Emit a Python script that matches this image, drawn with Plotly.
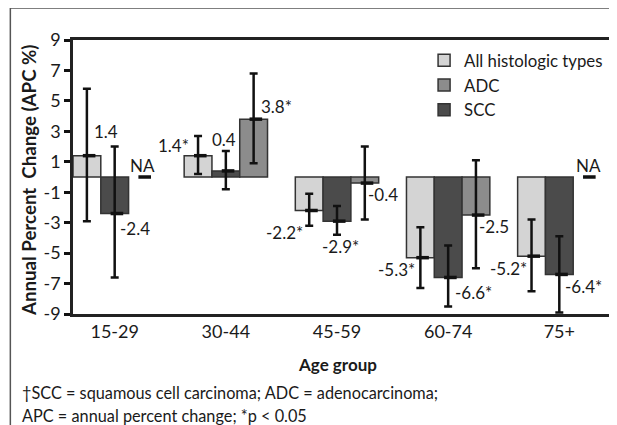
import plotly.graph_objects as go

# ---- data ----
categories = ["15-29", "30-44", "45-59", "60-74", "75+"]

all_apc = [1.4, 1.4, -2.2, -5.3, -5.2]
all_lo = [-2.9, 0.2, -3.2, -7.3, -7.5]
all_hi = [5.8, 2.7, -1.1, -3.3, -2.8]
all_labels = ["1.4", "1.4*", "-2.2*", "-5.3*", "-5.2*"]

scc_apc = [-2.4, 0.4, -2.9, -6.6, -6.4]
scc_lo = [-6.6, -0.8, -3.8, -8.5, -8.9]
scc_hi = [2.0, 1.7, -1.9, -4.5, -3.9]
scc_labels = ["-2.4", "0.4", "-2.9*", "-6.6*", "-6.4*"]

adc_apc = [None, 3.8, -0.4, -2.5, None]
adc_lo = [None, 0.9, -2.8, -6.0, None]
adc_hi = [None, 6.8, 2.0, 1.1, None]
adc_labels = ["NA", "3.8*", "-0.4", "-2.5", "NA"]

y_ticks = [9, 7, 5, 3, 1, -1, -3, -5, -7, -9]

# ---- style ----
FONT = "Lato"
TXT = "#1a1a1a"
BAR_W = 0.25
series = [
    # name, values, lo, hi, labels, color, offset, legendrank, label shifts (x, y)
    ("All histologic types", all_apc, all_lo, all_hi, all_labels, "#d4d4d4", -BAR_W, 1,
     [(19, 24), (-25, 10), (-25, -22), (-24, -12), (-23, -12)]),
    ("SCC", scc_apc, scc_lo, scc_hi, scc_labels, "#4b4b4b", 0.0, 3,
     [(20, -15), (-2, 31), (3, -25), (25, -15), (24, -12)]),
    ("ADC", adc_apc, adc_lo, adc_hi, adc_labels, "#8c8c8c", BAR_W, 2,
     [(0, 12), (23, 13), (18, -11), (18, -11), (1, 12)]),
]

fig = go.Figure()
annotations = []
for name, vals, lo, hi, labs, col, off, rank, shifts in series:
    xs = [i + off for i in range(len(categories))]
    plus = [(h - v) if v is not None else None for v, h in zip(vals, hi)]
    minus = [(v - l) if v is not None else None for v, l in zip(vals, lo)]
    fig.add_trace(go.Bar(
        x=xs, y=vals, name=name, width=BAR_W, legendrank=rank,
        marker=dict(color=col, line=dict(color="#333333", width=1.5)),
        error_y=dict(type="data", symmetric=False, array=plus, arrayminus=minus,
                     color="#111111", thickness=2.5, width=4),
    ))
    # point-estimate dashes (NA shown as dash at 0)
    my = [v if v is not None else 0 for v in vals]
    fig.add_trace(go.Scatter(
        x=[x + 0.02 for x in xs], y=my, mode="markers", showlegend=False,
        hoverinfo="skip", cliponaxis=False,
        marker=dict(symbol="line-ew", size=9, color="#111111",
                    line=dict(color="#111111", width=3.5)),
    ))
    for x, v, lab, (dx, dy) in zip(xs, my, labs, shifts):
        annotations.append(dict(
            x=x, y=v, xref="x", yref="y", text=lab, showarrow=False,
            xshift=dx, yshift=dy, xanchor="center", yanchor="middle",
            font=dict(family=FONT, size=17, color=TXT)))

# axis titles and footnote
annotations += [
    dict(text="<b>Annual Percent  Change (APC %)</b>", xref="paper", yref="paper",
         x=-0.0835, y=0.49, textangle=-90, showarrow=False,
         xanchor="center", yanchor="middle", font=dict(family=FONT, size=18.7, color=TXT)),
    dict(text="<b>Age group</b>", xref="paper", yref="paper", x=0.4926, y=-0.1825,
         showarrow=False, xanchor="center", yanchor="middle",
         font=dict(family=FONT, size=17, color=TXT)),
    dict(text="\u2020SCC = squamous cell carcinoma; ADC = adenocarcinoma;",
         xref="paper", yref="paper", x=-0.0983, y=-0.288, showarrow=False,
         xanchor="left", yanchor="middle", font=dict(family=FONT, size=16.3, color=TXT)),
    dict(text="APC = annual percent change; *p < 0.05",
         xref="paper", yref="paper", x=-0.0983, y=-0.369, showarrow=False,
         xanchor="left", yanchor="middle", font=dict(family=FONT, size=16.3, color=TXT)),
]

# outer frame lines (left and top), as in the cropped source figure
shapes = [
    dict(type="line", xref="paper", yref="paper", x0=-0.1169, x1=-0.1169,
         y0=1.1168, y1=-0.42, line=dict(color="#555555", width=1.5)),
    dict(type="line", xref="paper", yref="paper", x0=-0.1169, x1=1.02,
         y0=1.1168, y1=1.1168, line=dict(color="#555555", width=1.5)),
]

# page body adds an 8px margin, so the figure is 8px smaller than the window
fig.update_layout(
    width=609, height=417,
    margin=dict(l=65, r=5, t=32, b=111),
    paper_bgcolor="white", plot_bgcolor="white",
    barmode="overlay",
    showlegend=True,
    legend=dict(x=0.655, y=0.99, xanchor="left", yanchor="top",
                font=dict(family=FONT, size=16.8, color=TXT),
                bgcolor="rgba(0,0,0,0)", tracegroupgap=0, itemwidth=30),
    annotations=annotations,
    shapes=shapes,
    font=dict(family=FONT, color=TXT),
)
fig.update_xaxes(
    range=[-0.375, 4.447], tickmode="array",
    tickvals=list(range(len(categories))), ticktext=categories,
    showline=True, linecolor="#222222", linewidth=2.5, mirror=True,
    ticks="", showgrid=False, zeroline=False,
    tickfont=dict(family=FONT, size=18, color=TXT),
)
fig.update_yaxes(
    range=[-9, 9], tickmode="array", tickvals=y_ticks,
    ticktext=[str(t) for t in y_ticks],
    showline=True, linecolor="#222222", linewidth=2.5, mirror=True,
    ticks="outside", ticklen=6, tickwidth=2.5, tickcolor="#111111",
    showgrid=False, zeroline=False,
    tickfont=dict(family=FONT, size=18, color=TXT),
)

fig.write_html("out.html")
